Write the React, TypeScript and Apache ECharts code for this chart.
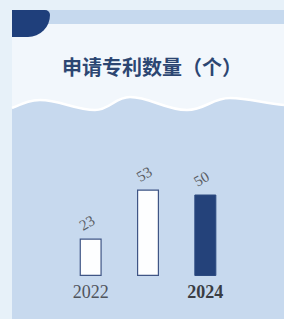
import React, { useEffect, useRef } from "react";
import * as echarts from "echarts";

const categories = ["2022", "2023", "2024"];
const values = [23, 53, 50];
const titleText = "申请专利数量（个）";

const waveFill =
  "M12 108 C24 103 30 100 40 100 C60 100 75 110 95 110 C110 110 115 97 130 97 C150 97 165 110 187 110 C205 110 212 98 230 98 C250 98 265 104 284 105 L284 319 L12 319 Z";
const waveLine =
  "M12 108 C24 103 30 100 40 100 C60 100 75 110 95 110 C110 110 115 97 130 97 C150 97 165 110 187 110 C205 110 212 98 230 98 C250 98 265 104 284 105";

echarts.graphic.registerShape("waveFill", echarts.graphic.extendPath(waveFill, {}) as any);
echarts.graphic.registerShape("waveLine", echarts.graphic.extendPath(waveLine, {}) as any);

export default function App() {
  const ref = useRef<HTMLDivElement>(null);
  useEffect(() => {
    document.body.style.margin = "0";
    const chart = echarts.init(ref.current!, null, { renderer: "svg" });
    chart.setOption({
      animation: false,
      backgroundColor: "#e7f1f9",
      graphic: {
        elements: [
          { type: "rect", z: -10, shape: { x: 12, y: 24, width: 272, height: 295 }, style: { fill: "#f2f7fc" } },
          { type: "rect", z: -9, shape: { x: 12, y: 10, width: 272, height: 14 }, style: { fill: "#c6d9ee" } },
          { type: "rect", z: -8, shape: { x: 12, y: 10, width: 38, height: 27, r: [0, 5, 22, 0] }, style: { fill: "#1f3f7b" } },
          { type: "waveFill", z: -7, x: 0, y: 0, style: { fill: "#c7d9ee" } },
          { type: "waveLine", z: -6, x: 0, y: 0, style: { fill: "none", stroke: "#ffffff", lineWidth: 2.5 } },
          {
            type: "text",
            z: 5,
            x: 152,
            y: 66,
            style: {
              text: titleText,
              fill: "#2c4672",
              fontSize: 20,
              fontWeight: "bold",
              fontFamily: "Noto Sans CJK SC",
              align: "center",
              verticalAlign: "middle",
            },
          },
        ],
      },
      grid: { left: 62, right: 50, top: 113, bottom: 43 },
      xAxis: {
        type: "category",
        data: categories,
        axisLine: { show: false },
        axisTick: { show: false },
        axisLabel: {
          margin: 7,
          formatter: (v: string) => (v === "2024" ? `{b|${v}}` : `{a|${v}}`),
          rich: {
            a: { fontFamily: "Liberation Serif", fontSize: 18, color: "#50545c" },
            b: { fontFamily: "Liberation Serif", fontSize: 18, fontWeight: "bold", color: "#3a3d44" },
          },
        },
      },
      yAxis: { type: "value", min: 0, max: 100, show: false, splitLine: { show: false } },
      series: [
        {
          type: "bar",
          barWidth: 22,
          data: values.map((v, i) => ({
            value: v,
            itemStyle:
              i === 2
                ? { color: "#24427a", borderColor: "#2c4a80", borderWidth: 1 }
                : { color: "#fdfeff", borderColor: "#3f5585", borderWidth: 1.2 },
          })),
          label: {
            show: true,
            position: "top",
            distance: 9,
            rotate: 30,
            fontFamily: "Liberation Serif",
            fontSize: 15,
            color: "#5a5d63",
          },
        },
      ],
    });
    return () => chart.dispose();
  }, []);
  return <div ref={ref} style={{ width: 284, height: 319 }} />;
}
